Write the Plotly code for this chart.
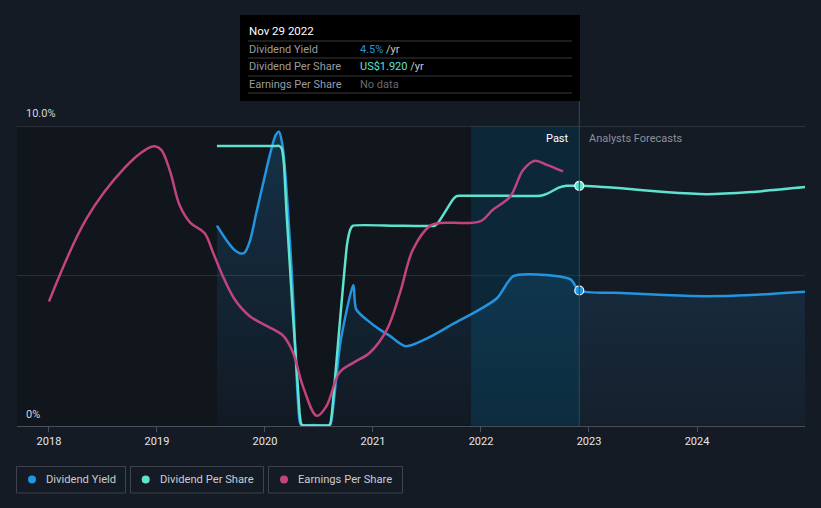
import plotly.graph_objects as go

# ---------------- data ----------------
yield_x = [2019.555, 2019.65, 2019.72, 2019.77, 2019.81, 2019.86, 2019.92, 2020.00, 2020.05,
           2020.10, 2020.13, 2020.16, 2020.18, 2020.25, 2020.32, 2020.335,
           2020.45, 2020.60, 2020.615, 2020.70, 2020.80, 2020.82, 2020.845, 2020.95, 2021.06, 2021.15,
           2021.30, 2021.50, 2021.75, 2021.99, 2022.15, 2022.30, 2022.55, 2022.83, 2022.91,
           2023.30, 2023.70, 2024.10, 2024.50, 2025.00]
yield_y = [6.67, 6.15, 5.85, 5.74, 5.76, 6.15, 7.10, 8.35, 9.10,
           9.70, 9.81, 9.40, 8.77, 5.00, 0.15, 0.00,
           0.00, 0.00, 0.15, 2.80, 4.50, 4.68, 3.87, 3.50, 3.20, 3.00,
           2.64, 2.90, 3.40, 3.87, 4.25, 4.98, 5.03, 4.87, 4.50,
           4.42, 4.35, 4.31, 4.35, 4.46]

dps_x = [2019.555, 2019.90, 2020.10, 2020.13, 2020.155, 2020.175, 2020.20, 2020.32, 2020.335, 2020.35,
         2020.59, 2020.605, 2020.62, 2020.76, 2020.79, 2020.815, 2021.20, 2021.57, 2021.60, 2021.74,
         2021.77, 2021.80, 2022.20, 2022.55, 2022.62, 2022.72, 2022.79, 2022.91, 2023.30, 2023.70,
         2024.09, 2024.50, 2025.00]
dps_y = [2.24, 2.24, 2.24, 2.24, 2.22, 2.10, 1.70, 0.10, 0.01, 0.00,
         0.00, 0.01, 0.10, 1.45, 1.57, 1.60, 1.60, 1.60, 1.62, 1.81,
         1.835, 1.84, 1.84, 1.84, 1.86, 1.905, 1.92, 1.92, 1.90, 1.87,
         1.853, 1.87, 1.91]

eps_x = [2018.00, 2018.35, 2018.70, 2018.90, 2018.98, 2019.04, 2019.12, 2019.21, 2019.31, 2019.44,
         2019.52, 2019.61, 2019.72, 2019.86, 2020.02, 2020.17, 2020.26, 2020.35, 2020.48,
         2020.57, 2020.69, 2020.82, 2020.97, 2021.13, 2021.25, 2021.37, 2021.53, 2021.62,
         2021.99, 2022.11, 2022.27, 2022.39, 2022.50, 2022.61, 2022.76]
eps_y = [4.13, 6.92, 8.60, 9.22, 9.32, 9.20, 8.50, 7.35, 6.76, 6.42,
         5.76, 4.98, 4.20, 3.64, 3.31, 2.98, 2.42, 1.31, 0.31,
         0.64, 1.76, 2.09, 2.42, 3.20, 4.42, 5.87, 6.67, 6.76,
         6.81, 7.20, 7.64, 8.53, 8.84, 8.70, 8.48]

year_ticks = [2018, 2019, 2020, 2021, 2022, 2023, 2024]
year_labels = ["2018", "2019", "2020", "2021", "2022", "2023", "2024"]

today = 2022.91
past_start = 2017.704
highlight_start = 2021.907
x_range = [2017.704, 2025.0]

BLUE = "#2394df"
TEAL = "#5fe3cf"
PINK = "#c1447f"
BG = "#151b25"

W, H = 821, 508
ML, MR, MT, MB = 17, 16, 126, 82
PW, PH = W - ML - MR, H - MT - MB


def px(xp):
    return (xp - ML) / PW


def py(yp):
    return (H - MB - yp) / PH


fig = go.Figure()

fig.add_trace(go.Scatter(
    x=yield_x, y=yield_y, mode="lines", name="Dividend Yield",
    line=dict(color=BLUE, width=2.5, shape="spline", smoothing=0.8),
    fill="tozeroy",
    fillgradient=dict(type="vertical",
                      colorscale=[[0, "rgba(35,148,223,0.04)"], [1, "rgba(35,148,223,0.22)"]]),
    hoverinfo="skip"))

fig.add_trace(go.Scatter(
    x=dps_x, y=dps_y, mode="lines", name="Dividend Per Share", yaxis="y2",
    line=dict(color=TEAL, width=2.5, shape="spline", smoothing=0.5),
    hoverinfo="skip"))

fig.add_trace(go.Scatter(
    x=eps_x, y=eps_y, mode="lines", name="Earnings Per Share", yaxis="y3",
    line=dict(color=PINK, width=2.5, shape="spline", smoothing=1.0),
    hoverinfo="skip"))

# markers at today
fig.add_trace(go.Scatter(
    x=[today], y=[4.5], mode="markers",
    marker=dict(color=BLUE, size=9, line=dict(color="white", width=1.2)),
    hoverinfo="skip"))
fig.add_trace(go.Scatter(
    x=[today], y=[1.92], mode="markers", yaxis="y2",
    marker=dict(color=TEAL, size=9, line=dict(color="white", width=1.2)),
    hoverinfo="skip"))

shapes = []
# past dark region
shapes.append(dict(type="rect", xref="x", yref="paper", x0=past_start, x1=highlight_start,
                   y0=0, y1=1, fillcolor="#11151c", line=dict(width=0), layer="below"))
# highlight band (last year)
shapes.append(dict(type="rect", xref="x", yref="paper", x0=highlight_start, x1=today,
                   y0=0, y1=1, fillcolor="#0c2838", line=dict(width=0), layer="below"))
# gridlines
shapes.append(dict(type="line", xref="paper", yref="y", x0=0, x1=1, y0=10, y1=10,
                   line=dict(color="#464b55", width=1), layer="below"))
shapes.append(dict(type="line", xref="paper", yref="y", x0=0, x1=1, y0=5, y1=5,
                   line=dict(color="#2d323c", width=1), layer="below"))
# hover line
shapes.append(dict(type="line", xref="x", yref="paper", x0=today, x1=today,
                   y0=0, y1=py(101), line=dict(color="#2a4b5c", width=1)))
# tooltip box
shapes.append(dict(type="rect", xref="paper", yref="paper", x0=px(240), x1=px(580),
                   y0=py(101), y1=py(15), fillcolor="#000000", line=dict(width=0)))
for yl in [41, 58, 76, 93]:
    shapes.append(dict(type="line", xref="paper", yref="paper", x0=px(248), x1=px(572),
                       y0=py(yl), y1=py(yl), line=dict(color="#3a3a3a", width=1)))

# legend boxes
legend_items = [("Dividend Yield", BLUE, 16.5, 125.5, 32, 44),
                ("Dividend Per Share", TEAL, 130.5, 263.5, 145.7, 158),
                ("Earnings Per Share", PINK, 268.5, 402.5, 284, 296)]
annotations = []
for name, col, bx0, bx1, dx, tx in legend_items:
    shapes.append(dict(type="rect", xref="paper", yref="paper", x0=px(bx0), x1=px(bx1),
                       y0=py(493), y1=py(466.5), fillcolor="rgba(0,0,0,0)",
                       line=dict(color="#3d424c", width=1)))
    shapes.append(dict(type="circle", xref="paper", yref="paper", x0=px(dx - 4), x1=px(dx + 4),
                       y0=py(483.5), y1=py(475.5), fillcolor=col, line=dict(width=0)))
    annotations.append(dict(text=name, xref="paper", yref="paper", x=px(tx), y=py(479.5),
                            xanchor="left", yanchor="middle", showarrow=False,
                            font=dict(color="#c9ccd1", size=11.2)))

# y labels
annotations.append(dict(text="10.0%", xref="paper", yref="paper", x=px(24), y=py(114),
                        xanchor="left", yanchor="middle", showarrow=False,
                        font=dict(color="#d4d6da", size=11)))
annotations.append(dict(text="0%", xref="paper", yref="paper", x=px(24), y=py(414),
                        xanchor="left", yanchor="middle", showarrow=False,
                        font=dict(color="#d4d6da", size=11)))
# Past / forecasts
annotations.append(dict(text="Past", xref="paper", yref="paper", x=px(571), y=py(138),
                        xanchor="right", yanchor="middle", showarrow=False,
                        font=dict(color="#ffffff", size=11)))
annotations.append(dict(text="Analysts Forecasts", xref="paper", yref="paper", x=px(587), y=py(138),
                        xanchor="left", yanchor="middle", showarrow=False,
                        font=dict(color="#8b9099", size=11)))
# tooltip text
annotations.append(dict(text="Nov 29 2022", xref="paper", yref="paper", x=px(247), y=py(31),
                        xanchor="left", yanchor="middle", showarrow=False,
                        font=dict(color="#ffffff", size=11.5)))
rows = [("Dividend Yield", f"<span style='color:{BLUE}'>4.5%</span> /yr", 49.5),
        ("Dividend Per Share", f"<span style='color:{TEAL}'>US$1.920</span> /yr", 67),
        ("Earnings Per Share", "<span style='color:#666a70'>No data</span>", 84.5)]
for lab, val, yc in rows:
    annotations.append(dict(text=lab, xref="paper", yref="paper", x=px(247), y=py(yc),
                            xanchor="left", yanchor="middle", showarrow=False,
                            font=dict(color="#9a9ca0", size=11)))
    annotations.append(dict(text=val, xref="paper", yref="paper", x=px(358), y=py(yc),
                            xanchor="left", yanchor="middle", showarrow=False,
                            font=dict(color="#c8c8c8", size=11)))

fig.update_layout(
    width=W, height=H,
    margin=dict(l=ML, r=MR, t=MT, b=MB),
    paper_bgcolor=BG, plot_bgcolor=BG,
    showlegend=False,
    font=dict(family="Roboto, sans-serif"),
    xaxis=dict(range=x_range, tickvals=year_ticks, ticktext=year_labels,
               showgrid=False, zeroline=False, showline=True, linecolor="#4a4f59", linewidth=1,
               ticks="outside", ticklen=5, tickcolor="#4a4f59",
               tickfont=dict(color="#e4e6ea", size=11), fixedrange=True),
    yaxis=dict(range=[-0.03, 10], visible=False, fixedrange=True),
    yaxis2=dict(range=[-0.0072, 2.4], overlaying="y", visible=False),
    yaxis3=dict(range=[-0.03, 10], overlaying="y", visible=False),
    shapes=shapes,
    annotations=annotations,
)

fig.write_html("out.html")
